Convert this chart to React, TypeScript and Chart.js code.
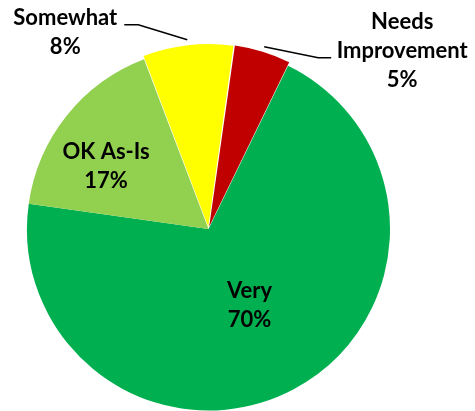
import React, { useEffect, useRef } from "react";
import { Chart, ArcElement, PieController } from "chart.js";

Chart.register(ArcElement, PieController);

const categories = ["Needs Improvement", "Very", "OK As-Is", "Somewhat"];
const values = [5, 70, 17, 8];
const labelNames = ["Needs\nImprovement", "Very", "OK As-Is", "Somewhat"];
const colors = ["#C00000", "#00B050", "#92D050", "#FFFF00"];
const explode = [9, 0, 0, 9];

// label placement: inside = nudge from arc centre point; outside = leader line from outer edge
const labelModes = ["outside", "inside", "inside", "outside"];
const labelNudge: [number, number][] = [[138, 4], [-1.5, -3.5], [-31.5, -5.5], [-122, -7]];
const elbowNudge: [number, number][] = [[54, 11], [0, 0], [0, 0], [-49, -15]];
const tailLen = [13, 0, 0, -14];

const FONT = "bold 22px Lato, 'Open Sans', sans-serif";
const LINE_H = 29;

const labelPlugin = {
  id: "pieLabels",
  afterDatasetsDraw(chart: any) {
    const ctx = chart.ctx as CanvasRenderingContext2D;
    const meta = chart.getDatasetMeta(0);
    const total = values.reduce((a, b) => a + b, 0);
    ctx.save();
    ctx.font = FONT;
    ctx.fillStyle = "#000";
    ctx.textAlign = "center";
    ctx.textBaseline = "middle";
    meta.data.forEach((arc: any, i: number) => {
      const { x, y, startAngle, endAngle, outerRadius } = arc.getProps(
        ["x", "y", "startAngle", "endAngle", "outerRadius"],
        true
      );
      const mid = (startAngle + endAngle) / 2;
      const off = explode[i];
      const pct = Math.round((values[i] / total) * 100) + "%";
      const lines = [...labelNames[i].split("\n"), pct];
      let cx: number, cy: number;
      if (labelModes[i] === "inside") {
        const c = arc.getCenterPoint(true);
        cx = c.x + labelNudge[i][0];
        cy = c.y + labelNudge[i][1];
      } else {
        const ax = x + Math.cos(mid) * (outerRadius + off);
        const ay = y + Math.sin(mid) * (outerRadius + off);
        const ex = ax + elbowNudge[i][0];
        const ey = ay + elbowNudge[i][1];
        ctx.save();
        ctx.strokeStyle = "#000";
        ctx.lineWidth = 1.5;
        ctx.beginPath();
        ctx.moveTo(ax, ay);
        ctx.lineTo(ex, ey);
        ctx.lineTo(ex + tailLen[i], ey);
        ctx.stroke();
        ctx.restore();
        cx = ax + labelNudge[i][0];
        cy = ay + labelNudge[i][1];
      }
      const top = cy - ((lines.length - 1) * LINE_H) / 2;
      lines.forEach((t, k) => {
        ctx.fillText(t, cx, top + k * LINE_H);
      });
    });
    ctx.restore();
  },
};

export default function App() {
  const ref = useRef<HTMLCanvasElement>(null);
  useEffect(() => {
    document.body.style.margin = "0";
    const chart = new Chart(ref.current!, {
      type: "pie",
      data: {
        labels: categories,
        datasets: [
          {
            data: values,
            backgroundColor: colors,
            borderWidth: 0,
            offset: explode,
          },
        ],
      },
      options: {
        responsive: false,
        animation: false,
        rotation: 8,
        radius: 181.5,
        layout: { padding: { left: 27, right: 85, top: 47.5, bottom: 0.5 } },
        plugins: { legend: { display: false }, tooltip: { enabled: false } },
        events: [],
      },
      plugins: [labelPlugin],
    });
    return () => chart.destroy();
  }, []);
  return (
    <div style={{ width: 475, height: 411 }}>
      <canvas ref={ref} width={475} height={411} />
    </div>
  );
}
